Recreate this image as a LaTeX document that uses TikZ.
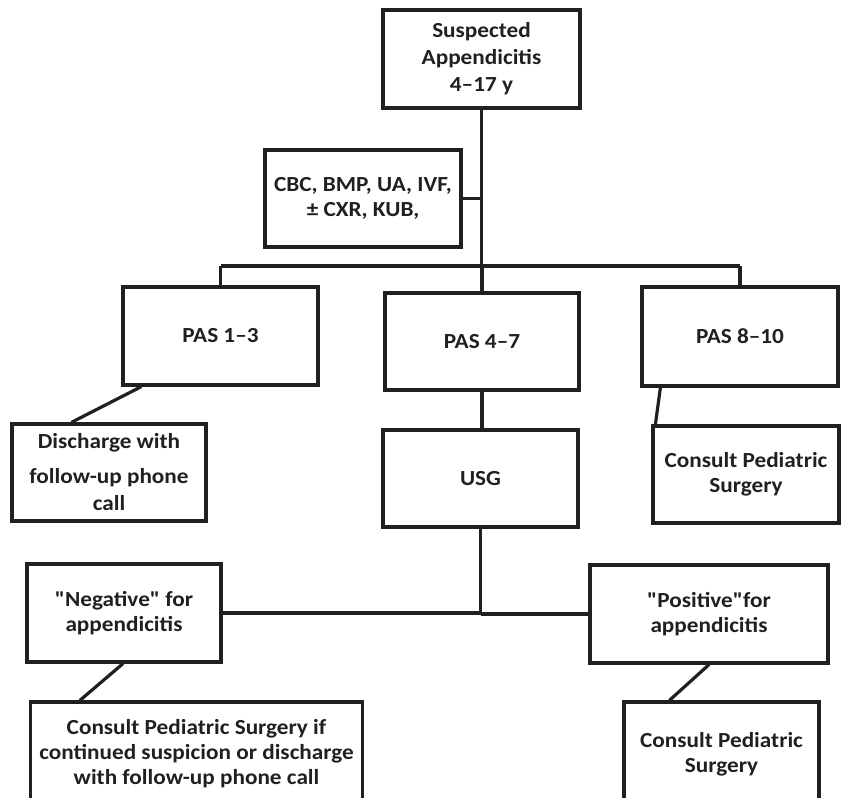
\documentclass[tikz,border=0pt]{standalone}
\usepackage{fontspec}
\newfontfamily\carl{Carlito}[FakeStretch=1.08,BoldFeatures={FakeStretch=1.08}]
\usetikzlibrary{calc}
\definecolor{ink}{HTML}{231F20}
\tikzset{
  box/.style={draw=ink, line width=3.2pt, text=ink, align=center, inner sep=0pt,
    font=\carl\fontsize{21.5}{25}\selectfont\bfseries},
  conn/.style={draw=ink, line width=3.2pt},
}
\begin{document}
\begin{tikzpicture}[x=1pt,y=-1pt]
\useasboundingbox (0,0) rectangle (841,798);
\clip (0,0) rectangle (841,798);
\node[box, minimum width=197pt, minimum height=98pt, font=\carl\fontsize{21.5}{27}\selectfont\bfseries] (top) at (481.5,59) {Suspected\\Appendicitis\\4–17 y};
\node[box, minimum width=196pt, minimum height=97pt] (cbc) at (363,198.5) {CBC, BMP, UA, IVF,\\± CXR, KUB,};
\node[box, minimum width=195pt, minimum height=98pt] (pas1) at (220.5,336) {PAS 1–3};
\node[box, minimum width=194pt, minimum height=97pt] (pas2) at (482,341.5) {PAS 4–7};
\node[box, minimum width=196pt, minimum height=99pt] (pas3) at (740,336.5) {PAS 8–10};
\node[box, minimum width=194pt, minimum height=97pt, font=\carl\fontsize{21.5}{27}\selectfont\bfseries] (dis) at (109,472.5) {Discharge with\\[8pt]follow-up phone\\call};
\node[box, minimum width=195pt, minimum height=97pt] (usg) at (480.5,478.5) {USG};
\node[box, minimum width=186pt, minimum height=97pt] (con1) at (746,474.5) {Consult Pediatric\\Surgery};
\node[box, minimum width=194pt, minimum height=98pt] (neg) at (124,613) {"Negative" for\\appendicitis};
\node[box, minimum width=238pt, minimum height=98pt] (pos) at (709,614) {"Positive"for\\appendicitis};
\node[box, minimum width=332pt, minimum height=104pt] (bl) at (196.5,754) {Consult Pediatric Surgery if\\continued suspicion or discharge\\with follow-up phone call};
\node[box, minimum width=195pt, minimum height=104pt] (br) at (721.5,754) {Consult Pediatric\\Surgery};
\coordinate (busL) at (220.5,266);
\coordinate (busR) at (740,266);
% connectors
\draw[conn] (top.south) -- (top.south |- busL);
\draw[conn] (cbc.east) -- (cbc.east -| top.south);
\draw[conn] (busL) -- (busR);
\draw[conn] (pas1.north) -- (pas1.north |- busL);
\draw[conn] (pas2.north) -- (pas2.north |- busL);
\draw[conn] (pas3.north) -- (pas3.north |- busR);
\draw[conn] ([xshift=20pt]pas1.south west) -- ([xshift=61pt]dis.north west);
\draw[conn] (pas2.south) -- ([xshift=1.5pt]usg.north);
\draw[conn] ([xshift=20pt]pas3.south west) -- ([xshift=4pt]con1.north west);
\draw[conn] (neg.east) -| (usg.south);
\draw[conn] (usg.south |- pos.west) -- (pos.west);
\draw[conn] ([xshift=-1pt]neg.south) -- ([xshift=51pt]bl.north west);
\draw[conn] (pos.south) -- ([xshift=47pt]br.north west);
\end{tikzpicture}
\end{document}
